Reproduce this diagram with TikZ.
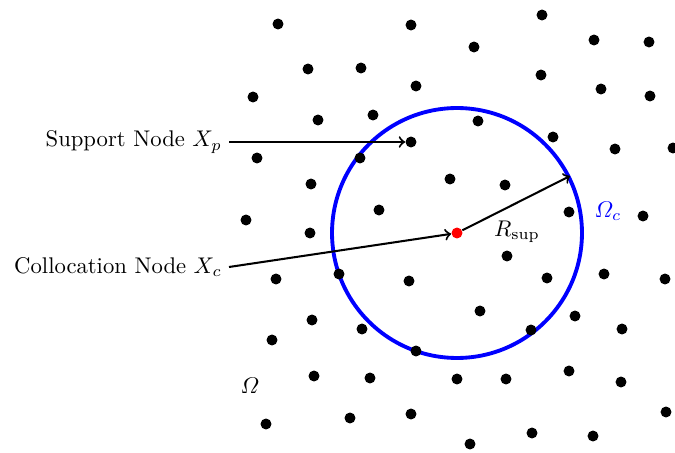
\documentclass[tikz,border=0pt]{standalone}
\usepackage{amsmath}
\usepackage{tikz}
\usetikzlibrary{arrows,positioning}

\begin{document}
\begin{tikzpicture}[
            x=0.0155cm, y=-0.0155cm,
            pt/.style={circle, fill=black, inner sep=0pt, minimum size=0.17cm},
            arrow/.style={->, line width=0.9pt},
            lbl/.style={anchor=east, inner sep=3pt}
        ]
            \useasboundingbox (0,0) rectangle (675,453);
            \coordinate (xc) at (457,233);
            \draw[blue, line width=1.7pt] (xc) circle[radius=1.9375cm];
            
            \foreach \x/\y [count=\i] in {278/24, 411/25, 542/15, 474/47, 594/40, 649/42,
                308/69, 361/68, 416/86, 541/75, 253/97, 601/89, 650/96,
                318/120, 373/115, 478/121, 553/137, 257/158, 360/158, 615/149, 673/148,
                311/184, 450/179, 505/185, 379/210, 246/220, 569/212, 643/216, 310/233,
                507/256, 276/279, 339/274, 409/281, 547/278, 604/274, 665/279,
                312/320, 480/311, 575/316, 362/329, 622/329, 272/340, 531/330, 416/351,
                314/376, 370/378, 457/379, 506/379, 569/371, 621/382,
                266/424, 350/418, 411/414, 470/444, 532/433, 593/436, 666/412}
                \node[pt] (p\i) at (\x,\y) {};
            \node[pt] (support) at (411,142) {};
            \node[pt, fill=red] (colloc) at (xc) {};
            \coordinate (rim) at (570,176);
            
            \node[lbl] (suplabel) at (229,142) {Support Node $X_p$};
            \node[lbl] (collabel) at (229,267) {Collocation Node $X_c$};
            \node (rsup) at (517,232) {$R_{\text{sup}}$};
            \node[blue] (omegac) at (608,211) {$\varOmega_c$};
            \node (omega) at (250,386) {$\varOmega$};
            
            \draw[arrow] (suplabel.east) -- (support);
            \draw[arrow] (collabel.east) -- (colloc);
            \draw[arrow] (colloc) -- (rim);
        \end{tikzpicture}
\end{document}
